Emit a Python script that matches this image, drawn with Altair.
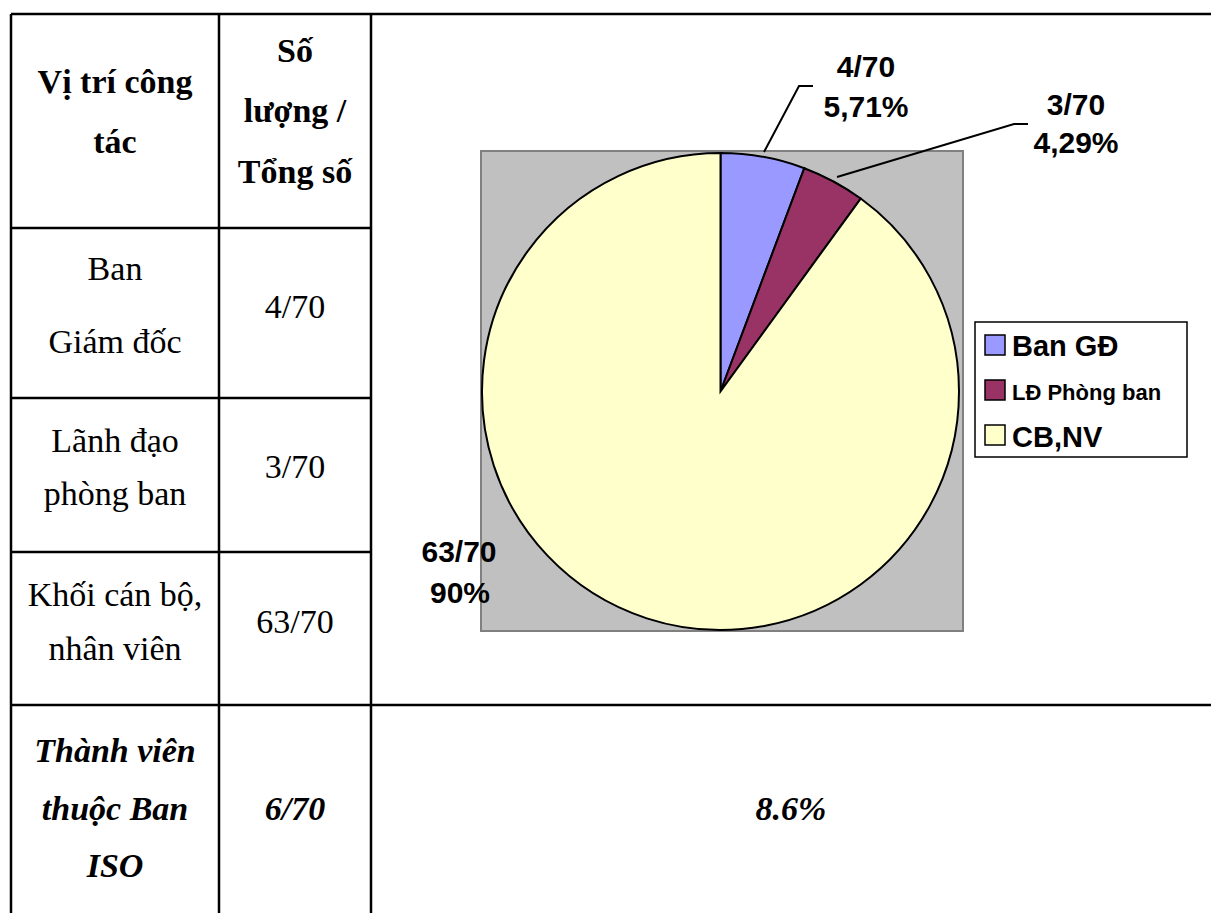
import altair as alt
import pandas as pd

W, H = 1211, 913

# ---- pie data ----
categories = ["Ban GĐ", "LĐ Phòng ban", "CB,NV"]
counts = [4, 3, 63]
colors = ["#9999FF", "#993366", "#FFFFCC"]

# ---- pie labels ----
label_lines = ["4/70", "5,71%", "3/70", "4,29%", "63/70", "90%"]
label_x = [866, 866, 1076, 1076, 459, 460]
label_y = [77, 117, 115, 153, 562, 603]

# ---- table text ----
header_text = ["Vị trí công", "tác", "Số", "lượng /", "Tổng số"]
header_x = [115, 115, 295, 295, 295]
header_y = [93, 153, 62, 122, 183]

body_text = ["Ban", "Giám đốc", "4/70", "Lãnh đạo", "phòng ban", "3/70",
             "Khối cán bộ,", "nhân viên", "63/70"]
body_x = [115, 115, 295, 115, 115, 295, 115, 115, 295]
body_y = [280, 353, 318, 452, 505, 478, 606, 660, 633]

iso_text = ["Thành viên", "thuộc Ban", "ISO", "6/70", "8.6%"]
iso_x = [115, 115, 115, 295, 791]
iso_y = [762, 820, 877, 820, 820]

# ---- table grid ----
rule_x = [11, 11, 219, 371, 11, 11, 11, 11]
rule_x2 = [1211, 11, 219, 371, 371, 371, 371, 1211]
rule_y = [14, 14, 14, 14, 228, 398, 552, 705]
rule_y2 = [14, 913, 913, 913, 228, 398, 552, 705]

# ---- plot area / leader lines / legend ----
plot_box = {"x": [481], "x2": [963], "y": [151], "y2": [631]}
leader_x = [764, 799, 813, 837, 1014, 1028]
leader_y = [152, 86, 86, 177, 124, 124]
leader_id = [0, 0, 0, 1, 1, 1]
legend_box = {"x": [975], "x2": [1187], "y": [322], "y2": [457]}
legend_sq_y = [335, 380, 425]
legend_text_y = [356, 400, 447]
legend_size = [29, 22, 29]

X = lambda f="x": alt.X(f"{f}:Q", scale=alt.Scale(domain=[0, W], nice=False, zero=False), axis=None)
Y = lambda f="y": alt.Y(f"{f}:Q", scale=alt.Scale(domain=[0, H], nice=False, zero=False, reverse=True), axis=None)
color_scale = alt.Scale(domain=categories, range=colors)

rules = alt.Chart(pd.DataFrame({"x": rule_x, "x2": rule_x2, "y": rule_y, "y2": rule_y2})).mark_rule(
    color="black", strokeWidth=2.5
).encode(x=X(), x2="x2:Q", y=Y(), y2="y2:Q")

box = alt.Chart(pd.DataFrame(plot_box)).mark_rect(
    fill="#C0C0C0", stroke="#808080", strokeWidth=2
).encode(x=X(), x2="x2:Q", y=Y(), y2="y2:Q")

pie_df = pd.DataFrame({"cat": categories, "count": counts, "idx": [0, 1, 2]})
pie = alt.Chart(pie_df).mark_arc(radius=238.5, stroke="black", strokeWidth=2).encode(
    theta=alt.Theta("count:Q", stack=True),
    color=alt.Color("cat:N", scale=color_scale, legend=None),
    order=alt.Order("idx:Q"),
    x=alt.value(720.5),
    y=alt.value(391.5),
)

leaders = alt.Chart(pd.DataFrame({"x": leader_x, "y": leader_y, "g": leader_id,
                                  "o": list(range(len(leader_x)))})).mark_line(
    color="black", strokeWidth=2
).encode(x=X(), y=Y(), detail="g:N", order="o:Q")

def txt(texts, xs, ys, font, size, weight="normal", style="normal", align="center"):
    df = pd.DataFrame({"t": texts, "x": xs, "y": ys})
    return alt.Chart(df).mark_text(
        font=font, fontSize=size, fontWeight=weight, fontStyle=style,
        align=align, baseline="alphabetic", color="black"
    ).encode(x=X(), y=Y(), text="t:N")

serif = "Liberation Serif"
sans = "Liberation Sans"

labels = txt(label_lines, label_x, label_y, sans, 30, "bold")
header = txt(header_text, header_x, header_y, serif, 34, "bold")
body = txt(body_text, body_x, body_y, serif, 34)
iso = txt(iso_text, iso_x, iso_y, serif, 34, "bold", "italic")

leg_box = alt.Chart(pd.DataFrame(legend_box)).mark_rect(
    fill="white", stroke="black", strokeWidth=1.5
).encode(x=X(), x2="x2:Q", y=Y(), y2="y2:Q")

leg_sq = alt.Chart(pd.DataFrame({"cat": categories, "x": [985] * 3, "x2": [1005] * 3,
                                 "y": legend_sq_y, "y2": [v + 20 for v in legend_sq_y]})).mark_rect(
    stroke="black", strokeWidth=1.5
).encode(x=X(), x2="x2:Q", y=Y(), y2="y2:Q",
         color=alt.Color("cat:N", scale=color_scale, legend=None))

leg_txt = alt.Chart(pd.DataFrame({"t": categories, "x": [1012] * 3, "y": legend_text_y,
                                  "s": legend_size})).mark_text(
    font=sans, fontWeight="bold", align="left", baseline="alphabetic", color="black"
).encode(x=X(), y=Y(), text="t:N", size=alt.Size("s:Q", scale=None, legend=None))

chart = alt.layer(
    rules, box, pie, leaders, labels, header, body, iso, leg_box, leg_sq, leg_txt
).properties(
    width=W, height=H, padding=0, autosize=alt.AutoSizeParams(type="none"), background="white"
).configure_view(strokeWidth=0)

chart.save("out.html", embed_options={"renderer": "svg", "actions": False})
